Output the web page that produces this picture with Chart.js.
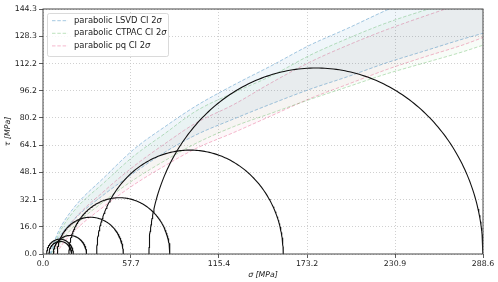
<!DOCTYPE html>
<html>
<head>
<meta charset="utf-8">
<script src="https://cdn.jsdelivr.net/npm/chart.js@4/dist/chart.umd.min.js"></script>
<style>
  html, body { margin: 0; padding: 0; background: #fff; }
  #wrap { width: 498px; height: 282px; }
</style>
</head>
<body>
<div id="wrap"><canvas id="c" width="498" height="282"></canvas></div>
<script>
// tick labels
const xTicks = [0.0, 57.7, 115.4, 173.2, 230.9, 288.6];
const yTicks = [0.0, 16.0, 32.1, 48.1, 64.1, 80.2, 96.2, 112.2, 128.3, 144.3];

// Mohr circles: sigma3 / sigma1
const sigma3 = [2.4, 3.9, 6.8, 9.4, 17.0, 35.2, 69.5];
const sigma1 = [19.9, 18.8, 28.6, 52.7, 83.3, 157.6, 288.6];

// envelope confidence bands, tau at these sigma values
const sigmaPts = [10, 20, 40, 60, 80, 100, 125, 150, 175, 200, 225, 250, 275, 288.6];
const lsvdUpper  = [13, 27, 45, 62, 75, 87, 99.5, 111, 123, 133, 143.5, 153, 162, 167];
const lsvdLower  = [9, 20, 35, 48, 60, 70, 79.5, 88.5, 97, 104.5, 112.5, 119.5, 126.5, 130];
const ctpacUpper = [11, 25, 42, 58, 71, 84, 95, 105, 117, 127, 136, 143.5, 150.5, 154];
const ctpacLower = [5, 16, 31, 44, 55, 65, 75, 83, 91, 98.5, 106, 112.5, 119, 123];
const pqUpper    = [7, 20, 37, 52, 65, 77, 88, 101, 113, 123, 132, 140, 147.5, 151];
const pqLower    = [2, 13, 28, 41, 52, 62, 71.5, 81.5, 91.5, 100, 108.5, 116, 123, 127.5];
const bandStart  = { lsvdU: 4.5, lsvdL: 5, ctpacU: 5.5, ctpacL: 6.5, pqU: 7, pqL: 9 };

const FONT = '"DejaVu Sans", sans-serif';

function curve(start, vals) {
  return [{ x: start, y: 0 }].concat(sigmaPts.map((s, i) => ({ x: s, y: vals[i] })));
}

function semicircle(s3, s1) {
  const c = (s1 + s3) / 2, r = (s1 - s3) / 2;
  const pts = [];
  for (let k = 0; k <= 180; k++) {
    const a = Math.PI - (k / 180) * Math.PI;
    pts.push({ x: c + r * Math.cos(a), y: r * Math.sin(a) });
  }
  return pts;
}

const bands = [
  { label: 'parabolic LSVD CI 2', line: 'rgba(31,119,180,0.45)', fill: 'rgba(31,119,180,0.065)',
    up: curve(bandStart.lsvdU, lsvdUpper), lo: curve(bandStart.lsvdL, lsvdLower) },
  { label: 'parabolic CTPAC CI 2', line: 'rgba(44,160,44,0.35)', fill: 'rgba(44,160,44,0.03)',
    up: curve(bandStart.ctpacU, ctpacUpper), lo: curve(bandStart.ctpacL, ctpacLower) },
  { label: 'parabolic pq CI 2', line: 'rgba(230,80,130,0.45)', fill: 'rgba(220,60,110,0.045)',
    up: curve(bandStart.pqU, pqUpper), lo: curve(bandStart.pqL, pqLower) },
];

const datasets = [];
sigma3.forEach((s3, i) => {
  datasets.push({
    data: semicircle(s3, sigma1[i]),
    borderColor: '#111', borderWidth: 1.1, pointRadius: 0, fill: false, order: 0,
  });
});
bands.forEach(b => {
  datasets.push({
    label: b.label, data: b.up, borderColor: b.line, borderWidth: 0.9,
    borderDash: [3.5, 1.8], pointRadius: 0, fill: false, order: 1,
    cubicInterpolationMode: 'monotone',
  });
  datasets.push({
    label: b.label + ' lower', data: b.lo, borderColor: b.line, borderWidth: 0.9,
    borderDash: [3.5, 1.8], pointRadius: 0, fill: '-1', backgroundColor: b.fill, order: 1,
    cubicInterpolationMode: 'monotone',
  });
});

const frame = {
  id: 'frame',
  afterDatasetsDraw(chart) {
    const { ctx, chartArea: a } = chart;
    ctx.save();
    ctx.strokeStyle = '#333';
    ctx.lineWidth = 0.9;
    ctx.strokeRect(a.left, a.top, a.right - a.left, a.bottom - a.top);
    ctx.restore();
  },
  afterDraw(chart) {
    const ctx = chart.ctx;
    const x0 = 47, y0 = 13, w = 121, h = 43;
    ctx.save();
    ctx.fillStyle = 'rgba(255,255,255,0.85)';
    ctx.strokeStyle = '#d0d0d0';
    ctx.lineWidth = 0.8;
    ctx.beginPath();
    ctx.roundRect(x0 + 0.5, y0 + 0.5, w, h, 2);
    ctx.fill();
    ctx.stroke();
    bands.forEach((b, i) => {
      const y = 20.7 + i * 12.6;
      ctx.strokeStyle = b.line;
      ctx.lineWidth = 0.9;
      ctx.setLineDash([3.5, 1.8]);
      ctx.beginPath();
      ctx.moveTo(52, y);
      ctx.lineTo(68, y);
      ctx.stroke();
      ctx.setLineDash([]);
      ctx.fillStyle = '#222';
      ctx.textBaseline = 'middle';
      ctx.font = '8.4px ' + FONT;
      ctx.fillText(b.label, 74, y);
      const tw = ctx.measureText(b.label).width;
      ctx.font = 'italic 8.4px ' + FONT;
      ctx.fillText('σ', 74 + tw, y);
    });
    ctx.restore();
  }
};

new Chart(document.getElementById('c'), {
  type: 'line',
  data: { datasets },
  options: {
    responsive: false,
    animation: false,
    layout: { padding: { top: 9, right: 15, left: 0, bottom: 0 } },
    plugins: { legend: { display: false }, tooltip: { enabled: false } },
    scales: {
      x: {
        type: 'linear', min: 0, max: 288.6,
        afterBuildTicks: s => { s.ticks = xTicks.map(v => ({ value: v })); },
        afterFit: s => { s.height = 28; },
        ticks: { font: { family: FONT, size: 7.8 }, color: '#222', padding: 1,
                 maxRotation: 0, callback: v => v.toFixed(1) },
        grid: { color: '#c4c4c4', lineWidth: 0.8,
                tickLength: 4, tickColor: '#333', tickWidth: 0.8, tickBorderDash: [] },
        border: { display: false, dash: [1, 2] },
        title: { display: true, text: 'σ [MPa]', font: { family: FONT, size: 7.8, style: 'italic' },
                 color: '#222', padding: { top: 0, bottom: 2 } },
      },
      y: {
        type: 'linear', min: 0, max: 144.3,
        afterBuildTicks: s => { s.ticks = yTicks.map(v => ({ value: v })); },
        afterFit: s => { s.width = 43; },
        ticks: { font: { family: FONT, size: 7.8 }, color: '#222', padding: 2,
                 callback: v => v.toFixed(1) },
        grid: { color: '#c4c4c4', lineWidth: 0.8,
                tickLength: 4, tickColor: '#333', tickWidth: 0.8, tickBorderDash: [] },
        border: { display: false, dash: [1, 2] },
        title: { display: true, text: 'τ [MPa]', font: { family: FONT, size: 7.8, style: 'italic' },
                 color: '#222', padding: { top: 3, bottom: 0 } },
      },
    },
  },
  plugins: [frame],
});
</script>
</body>
</html>
